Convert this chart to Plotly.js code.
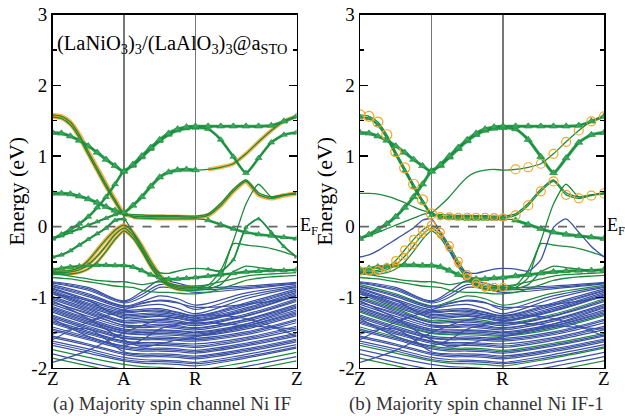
<!DOCTYPE html>
<html>
<head>
<meta charset="utf-8">
<script src="https://cdn.plot.ly/plotly-3.0.1.min.js"></script>
<style>
  html, body { margin: 0; padding: 0; background: #fff; }
  #plot { width: 625px; height: 416px; }
</style>
</head>
<body>
<div id="plot"></div>
<script>
// k-path Z -> A -> R -> Z (R-Z segment is sqrt(2) longer)
const kPath   = [0, 1, 2, 3.414];
const kLabels = ['Z', 'A', 'R', 'Z'];
const kFine = [0, 0.125, 0.25, 0.375, 0.5, 0.625, 0.75, 0.875, 1,
               1.125, 1.25, 1.375, 1.5, 1.625, 1.75, 1.875, 2,
               2.177, 2.354, 2.53, 2.707, 2.884, 3.061, 3.237, 3.414];
const kNode = [0, 0.5, 1, 1.25, 1.5, 1.75, 2, 2.7, 3.414];

// bands around the Fermi level (eV), sampled on kFine
const bandTopArch = [1.33,1.32,1.28,1.22,1.14,1.05,0.95,0.86,0.78,
  0.88,1.00,1.12,1.23,1.32,1.38,1.41,1.42,
  1.42,1.42,1.42,1.42,1.42,1.43,1.49,1.56];
const bandArchPartner = [-0.17,-0.11,-0.04,0.04,0.14,0.27,0.42,0.60,0.79,
  0.86,0.98,1.10,1.21,1.30,1.36,1.39,1.40,
  1.38,1.23,0.99,0.76,0.97,1.19,1.30,1.33];
const bandSteep = [1.58,1.56,1.48,1.30,1.06,0.83,0.60,0.38,0.18,
  0.15,0.145,0.14,0.14,0.14,0.14,0.135,0.13,
  0.16,0.30,0.50,0.64,0.45,0.40,0.44,0.47];
const bandSteep2 = [1.55,1.53,1.44,1.26,1.02,0.79,0.56,0.35,0.16,
  0.17,0.165,0.16,0.16,0.155,0.155,0.15,0.15,
  0.18,0.33,0.53,0.66,0.48,0.42,0.45,0.48];
const bandSecondArch = [0.47,0.47,0.46,0.43,0.39,0.34,0.28,0.23,0.20,
  0.30,0.42,0.57,0.70,0.77,0.80,0.81,0.80,
  0.81,0.84,0.89,1.03,1.20,1.36,1.49,1.56];
const bandNearEF = [-0.165,-0.13,-0.08,-0.03,0.02,0.07,0.12,0.17,0.20,
  0.13,0.12,0.115,0.11,0.11,0.11,0.11,0.11,
  0.09,0.03,-0.03,-0.08,-0.11,-0.13,-0.15,-0.17];
const bandGap = [-0.43,-0.40,-0.34,-0.26,-0.18,-0.10,-0.02,0.09,0.11,
  -0.08,-0.32,-0.55,-0.65,-0.66,-0.63,-0.60,-0.59,
  -0.60,-0.63,-0.47,-0.01,0.11,-0.08,-0.28,-0.43];
const bandDz1 = [-0.63,-0.63,-0.62,-0.58,-0.48,-0.33,-0.18,-0.05,0.02,
  -0.08,-0.27,-0.49,-0.68,-0.80,-0.85,-0.86,-0.86,
  -0.83,-0.62,-0.20,0.32,0.60,0.42,0.45,0.46];
const bandDz2 = [-0.65,-0.65,-0.64,-0.61,-0.54,-0.42,-0.27,-0.11,-0.02,
  -0.12,-0.31,-0.53,-0.71,-0.82,-0.87,-0.88,-0.88,
  -0.86,-0.72,-0.24,-0.26,-0.28,-0.31,-0.36,-0.42];
const bandDz3 = [-0.67,-0.67,-0.67,-0.65,-0.60,-0.50,-0.35,-0.18,-0.06,
  -0.16,-0.35,-0.57,-0.74,-0.84,-0.89,-0.90,-0.90,
  -0.88,-0.82,-0.64,-0.56,-0.58,-0.60,-0.61,-0.62];
const bandFlatLow = [-0.61,-0.59,-0.57,-0.56,-0.55,-0.545,-0.545,-0.55,-0.55,
  -0.57,-0.62,-0.68,-0.72,-0.74,-0.74,-0.73,-0.72,
  -0.70,-0.68,-0.66,-0.64,-0.63,-0.62,-0.62,-0.61];
const bandLowA = [-0.66,-0.68,-0.70,-0.72,-0.74,-0.76,-0.77,-0.78,-0.78,
  -0.80,-0.82,-0.80,-0.78,-0.80,-0.83,-0.84,-0.84,
  -0.82,-0.78,-0.74,-0.70,-0.68,-0.67,-0.66,-0.65];
const bandLowB = [-0.72,-0.73,-0.74,-0.76,-0.78,-0.80,-0.82,-0.84,-0.85,
  -0.86,-0.90,-0.92,-0.93,-0.93,-0.94,-0.95,-0.95,
  -0.93,-0.88,-0.82,-0.76,-0.73,-0.71,-0.70,-0.69];

// O-2p manifold (eV), sampled on kNode
const bulkBands = [
  [-0.78,-0.86,-1.05,-0.92,-0.76,-0.80,-0.86,-0.84,-0.79],
  [-0.79,-0.88,-1.06,-0.96,-0.82,-0.84,-0.89,-0.86,-0.80],
  [-0.80,-0.90,-1.08,-1.00,-0.86,-0.88,-0.93,-0.88,-0.81],
  [-0.82,-0.95,-1.12,-1.06,-0.98,-1.02,-1.11,-0.94,-0.83],
  [-0.84,-0.97,-1.13,-1.09,-1.04,-1.07,-1.17,-0.98,-0.85],
  [-0.85,-0.99,-1.15,-1.12,-1.10,-1.16,-1.23,-1.02,-0.86],
  [-0.87,-1.03,-1.18,-1.17,-1.16,-1.21,-1.26,-1.08,-0.88],
  [-0.88,-1.05,-1.20,-1.19,-1.18,-1.22,-1.27,-1.10,-0.90],
  [-0.90,-1.08,-1.22,-1.20,-1.20,-1.24,-1.29,-1.12,-0.91],
  [-0.92,-1.10,-1.24,-1.23,-1.22,-1.25,-1.30,-1.15,-0.93],
  [-0.93,-1.12,-1.26,-1.25,-1.24,-1.27,-1.32,-1.17,-0.95],
  [-0.95,-1.14,-1.28,-1.27,-1.26,-1.29,-1.33,-1.19,-0.97],
  [-0.96,-1.05,-1.30,-1.29,-1.27,-1.30,-1.34,-1.20,-0.98],
  [-0.99,-1.16,-1.33,-1.32,-1.31,-1.33,-1.37,-1.24,-1.02],
  [-1.01,-1.18,-1.35,-1.34,-1.33,-1.35,-1.38,-1.26,-1.04],
  [-1.03,-1.20,-1.36,-1.36,-1.35,-1.37,-1.40,-1.27,-1.06],
  [-1.06,-1.24,-1.39,-1.40,-1.38,-1.40,-1.43,-1.31,-1.10],
  [-1.08,-1.22,-1.40,-1.42,-1.40,-1.42,-1.44,-1.32,-1.12],
  [-1.10,-1.27,-1.42,-1.43,-1.42,-1.44,-1.46,-1.34,-1.14],
  [-1.13,-1.30,-1.45,-1.46,-1.46,-1.47,-1.49,-1.38,-1.18],
  [-1.15,-1.32,-1.47,-1.48,-1.47,-1.48,-1.50,-1.40,-1.20],
  [-1.17,-1.34,-1.48,-1.50,-1.49,-1.50,-1.52,-1.41,-1.22],
  [-1.19,-1.36,-1.50,-1.52,-1.51,-1.52,-1.54,-1.43,-1.24],
  [-1.21,-1.38,-1.51,-1.53,-1.53,-1.54,-1.55,-1.45,-1.26],
  [-1.25,-1.41,-1.55,-1.57,-1.56,-1.57,-1.58,-1.49,-1.31],
  [-1.27,-1.43,-1.57,-1.59,-1.58,-1.59,-1.60,-1.51,-1.33],
  [-1.29,-1.45,-1.58,-1.60,-1.60,-1.61,-1.62,-1.53,-1.36],
  [-1.33,-1.48,-1.62,-1.64,-1.64,-1.65,-1.66,-1.57,-1.41],
  [-1.35,-1.50,-1.63,-1.66,-1.66,-1.67,-1.69,-1.59,-1.43],
  [-1.37,-1.52,-1.65,-1.68,-1.68,-1.69,-1.71,-1.61,-1.46],
  [-1.42,-1.56,-1.69,-1.72,-1.72,-1.73,-1.75,-1.65,-1.51],
  [-1.45,-1.58,-1.71,-1.74,-1.74,-1.75,-1.77,-1.67,-1.53],
  [-1.47,-1.60,-1.73,-1.76,-1.76,-1.77,-1.79,-1.69,-1.55],
  [-1.52,-1.45,-1.77,-1.80,-1.80,-1.81,-1.83,-1.73,-1.59],
  [-1.55,-1.66,-1.79,-1.82,-1.82,-1.83,-1.85,-1.75,-1.61],
  [-1.57,-1.68,-1.81,-1.84,-1.84,-1.85,-1.87,-1.77,-1.63],
  [-1.62,-1.73,-1.85,-1.88,-1.89,-1.90,-1.92,-1.81,-1.67],
  [-1.65,-1.76,-1.88,-1.91,-1.91,-1.92,-1.94,-1.84,-1.70],
  [-1.68,-1.79,-1.90,-1.93,-1.94,-1.95,-1.97,-1.86,-1.72],
  [-1.74,-1.85,-1.95,-1.98,-1.99,-2.01,-2.03,-1.92,-1.78],
  [-1.80,-1.92,-2.02,-2.05,-2.06,-2.08,-2.10,-1.98,-1.84],
  [-1.86,-1.97,-2.08,-2.10,-2.12,-2.14,-2.16,-2.04,-1.90],
  [-1.92,-1.75,-1.50,-1.40,-1.32,-1.28,-1.25,-1.30,-1.55],
  [-1.60,-1.35,-1.18,-1.08,-1.05,-1.08,-1.14,-1.10,-1.00],
  [-1.30,-1.55,-1.68,-1.60,-1.45,-1.38,-1.35,-1.40,-1.45],
  [-1.05,-1.30,-1.60,-1.70,-1.66,-1.60,-1.56,-1.38,-1.15]
];

const BLUE = '#3a52a5', GREEN = '#1d8a3c', TRI = '#35a65a', ORANGE = '#f7a526';
const SERIF = 'Liberation Serif, Times New Roman, serif';

// projection styling per panel: line colour + marker runs [kind, from, to, size]
//   tri  = green triangles, circ = open orange circles, halo = orange outline
const panelA = {
  bulkGreen: [39, 41],
  bands: [
    {y: bandLowB, color: GREEN, marks: []},
    {y: bandLowA, color: GREEN, marks: []},
    {y: bandFlatLow, color: GREEN, marks: [['tri', 0, 24, 6]]},
    {y: bandDz3, color: GREEN, marks: [['halo', 0, 16, 3]]},
    {y: bandDz2, color: GREEN, marks: [['halo', 0, 16, 3]]},
    {y: bandDz1, color: GREEN, marks: [['halo', 0, 16, 4]]},
    {y: bandGap, color: GREEN, marks: [['tri', 0, 8, 5], ['tri', 17, 24, 4]]},
    {y: bandNearEF, color: GREEN, marks: [['tri', 0, 8, 5], ['halo', 9, 16, 3.5], ['tri', 17, 24, 6]]},
    {y: bandSecondArch, color: GREEN, marks: [['tri', 0, 16, 7], ['halo', 17, 24, 4]]},
    {y: bandSteep2, color: GREEN, marks: [['halo', 0, 8, 3.5]]},
    {y: bandSteep, color: GREEN, marks: [['halo', 0, 24, 4.5]]},
    {y: bandArchPartner, color: GREEN, marks: [['tri', 0, 24, 6]]},
    {y: bandTopArch, color: GREEN, marks: [['tri', 0, 24, 7]]}
  ]
};
const panelB = {
  bulkGreen: [3, 13, 23, 30, 38, 41],
  bands: [
    {y: bandLowB, color: GREEN, marks: []},
    {y: bandLowA, color: GREEN, marks: []},
    {y: bandFlatLow, color: GREEN, marks: [['tri', 0, 24, 7]]},
    {y: bandDz3, color: GREEN, marks: []},
    {y: bandDz2, color: GREEN, marks: [['circ', 4, 14, 6]]},
    {y: bandDz1, color: GREEN, marks: [['circ', 0, 16, 8]]},
    {y: bandGap, color: BLUE, marks: []},
    {y: bandNearEF, color: GREEN, marks: [['tri', 9, 16, 6], ['tri', 17, 24, 7]]},
    {y: bandSecondArch, color: GREEN, marks: [['circ', 17, 24, 9]]},
    {y: bandSteep2, color: GREEN, marks: [['tri', 0, 8, 5]]},
    {y: bandSteep, color: GREEN, marks: [['circ', 0, 8, 10], ['circ', 9, 16, 7], ['circ', 17, 24, 9]]},
    {y: bandArchPartner, color: GREEN, marks: [['tri', 0, 24, 7]]},
    {y: bandTopArch, color: GREEN, marks: [['tri', 0, 24, 7]]}
  ]
};

function panelTraces(panel, xa, ya) {
  const bulk = [], under = [], lines = [], marks = [];
  bulkBands.forEach((b, i) => {
    bulk.push({x: kNode, y: b, xaxis: xa, yaxis: ya, mode: 'lines', hoverinfo: 'skip',
      line: {color: panel.bulkGreen.includes(i) ? GREEN : BLUE, width: 1.2, shape: 'spline', smoothing: 1}});
  });
  panel.bands.forEach(b => {
    lines.push({x: kFine, y: b.y, xaxis: xa, yaxis: ya, mode: 'lines', hoverinfo: 'skip',
      line: {color: b.color, width: 1.3, shape: 'spline', smoothing: 0.6}});
    b.marks.forEach(([kind, from, to, size]) => {
      const xs = kFine.slice(from, to + 1), ys = b.y.slice(from, to + 1);
      if (kind === 'halo') {
        under.push({x: xs, y: ys, xaxis: xa, yaxis: ya, mode: 'lines', hoverinfo: 'skip', opacity: 0.85,
          line: {color: ORANGE, width: size, shape: 'spline', smoothing: 0.6}});
      } else if (kind === 'tri') {
        under.push({x: xs, y: ys, xaxis: xa, yaxis: ya, mode: 'lines', hoverinfo: 'skip',
          line: {color: TRI, width: size * 0.45, shape: 'spline', smoothing: 0.6}});
        marks.push({x: xs, y: ys, xaxis: xa, yaxis: ya, mode: 'markers', hoverinfo: 'skip',
          marker: {symbol: 'triangle-up', size: size, color: TRI, line: {color: GREEN, width: 0.6}}});
      } else {
        marks.push({x: xs, y: ys, xaxis: xa, yaxis: ya, mode: 'markers', hoverinfo: 'skip',
          marker: {symbol: 'circle-open', size: size, color: ORANGE, line: {width: 1.2}}});
      }
    });
  });
  return bulk.concat(under, lines, marks);
}

const traces = panelTraces(panelA, 'x', 'y').concat(panelTraces(panelB, 'x2', 'y2'));

const xAxisBase = {
  range: [0, 3.414], tickmode: 'array', tickvals: kPath, showticklabels: false,
  ticks: '', showgrid: true, gridcolor: '#777', gridwidth: 1.6,
  showline: true, mirror: true, linecolor: '#000', linewidth: 1.5, zeroline: false,
  fixedrange: true
};
const yAxisBase = {
  range: [-2, 3], tickmode: 'array', tickvals: [-2, -1, 0, 1, 2, 3],
  ticktext: ['-2', '-1', '0', '1', '2', '3'],
  ticks: 'inside', ticklen: 8, tickwidth: 1.3, tickcolor: '#000',
  minor: {tickvals: [-1.5, -0.5, 0.5, 1.5, 2.5], ticks: 'inside', ticklen: 4, tickwidth: 1.2, tickcolor: '#000'},
  showgrid: false, showline: true, mirror: 'ticks', linecolor: '#000', linewidth: 1.5, zeroline: false,
  tickfont: {family: SERIF, size: 19, color: '#000'},
  title: {text: 'Energy (eV)', font: {family: SERIF, size: 22, color: '#000'}, standoff: 0},
  fixedrange: true
};

const fermiLine = (xr, yr) => ({type: 'line', xref: xr, yref: yr, x0: 0, x1: 3.414, y0: 0, y1: 0,
  line: {color: '#666', width: 1.6, dash: 'dash'}, layer: 'above'});

// high-symmetry point labels under each panel
const kLabelNotes = [];
['x', 'x2'].forEach(xr => {
  kPath.forEach((k, i) => kLabelNotes.push({
    xref: xr, yref: 'paper', x: k, y: 0.0913, xanchor: 'center', yanchor: 'middle', showarrow: false,
    text: kLabels[i], font: {family: SERIF, size: 19, color: '#000'}
  }));
});

const layout = {
  width: 625, height: 416,
  margin: {l: 0, r: 0, t: 0, b: 0},
  paper_bgcolor: '#fff', plot_bgcolor: '#fff',
  showlegend: false,
  xaxis: Object.assign({}, xAxisBase, {domain: [0.084, 0.4744], anchor: 'y'}),
  yaxis: Object.assign({}, yAxisBase, {domain: [0.1154, 0.9649], anchor: 'x'}),
  xaxis2: Object.assign({}, xAxisBase, {domain: [0.576, 0.9664], anchor: 'y2'}),
  yaxis2: Object.assign({}, yAxisBase, {domain: [0.1154, 0.9649], anchor: 'x2'}),
  shapes: [fermiLine('x', 'y'), fermiLine('x2', 'y2')],
  annotations: kLabelNotes.concat([
    {xref: 'x', yref: 'y', x: 3.414, y: 0, xanchor: 'left', yanchor: 'middle', xshift: 1, showarrow: false,
     text: 'E<sub>F</sub>', font: {family: SERIF, size: 18, color: '#000'}},
    {xref: 'x2', yref: 'y2', x: 3.414, y: 0, xanchor: 'left', yanchor: 'middle', xshift: 1, showarrow: false,
     text: 'E<sub>F</sub>', font: {family: SERIF, size: 18, color: '#000'}},
    {xref: 'paper', yref: 'paper', x: 0.275, y: 0.892, xanchor: 'center', yanchor: 'middle', showarrow: false,
     text: '(LaNiO<sub>3</sub>)<sub>3</sub>/(LaAlO<sub>3</sub>)<sub>3</sub>@a<sub>STO</sub>',
     font: {family: SERIF, size: 20.5, color: '#000'}},
    {xref: 'paper', yref: 'paper', x: 0.2752, y: 0.029, xanchor: 'center', yanchor: 'middle', showarrow: false,
     text: '(a) Majority spin channel Ni IF', font: {family: SERIF, size: 19, color: '#333'}},
    {xref: 'paper', yref: 'paper', x: 0.7616, y: 0.029, xanchor: 'center', yanchor: 'middle', showarrow: false,
     text: '(b) Majority spin channel Ni IF-1', font: {family: SERIF, size: 19, color: '#333'}}
  ])
};

Plotly.newPlot('plot', traces, layout, {staticPlot: true, displayModeBar: false});
</script>
</body>
</html>
